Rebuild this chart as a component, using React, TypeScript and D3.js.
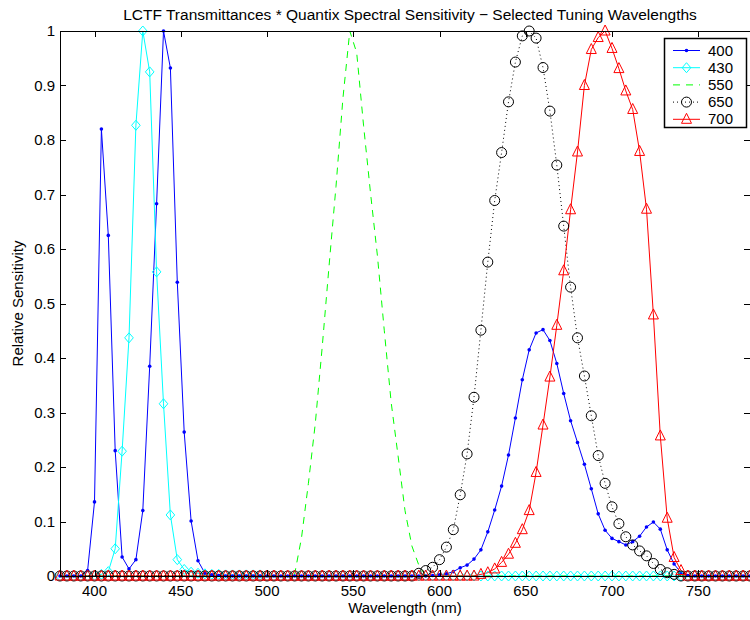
import React from 'react';
import * as d3 from 'd3';

const wavelengths = [
  380, 384, 388, 392, 396, 400, 404, 408, 412, 416,
  420, 424, 428, 432, 436, 440, 444, 448, 452, 456,
  460, 464, 468, 472, 476, 480, 484, 488, 492, 496,
  500, 504, 508, 512, 516, 520, 524, 528, 532, 536,
  540, 544, 548, 552, 556, 560, 564, 568, 572, 576,
  580, 584, 588, 592, 596, 600, 604, 608, 612, 616,
  620, 624, 628, 632, 636, 640, 644, 648, 652, 656,
  660, 664, 668, 672, 676, 680, 684, 688, 692, 696,
  700, 704, 708, 712, 716, 720, 724, 728, 732, 736,
  740, 744, 748, 752, 756, 760, 764, 768, 772, 776,
  780,
];

const s400 = [
  0, 0, 0, 0, 0.01, 0.136, 0.82, 0.625, 0.23, 0.035,
  0.013, 0.03, 0.12, 0.385, 0.683, 1.0, 0.932, 0.539, 0.264, 0.101,
  0.028, 0.005, 0.002, 0.001, 0, 0, 0, 0, 0, 0,
  0, 0, 0, 0, 0, 0, 0, 0, 0, 0,
  0, 0, 0, 0, 0, 0, 0, 0, 0, 0,
  0, 0, 0, 0, 0.001, 0.002, 0.004, 0.008, 0.015, 0.02,
  0.031, 0.048, 0.081, 0.121, 0.165, 0.222, 0.29, 0.36, 0.415, 0.446,
  0.452, 0.432, 0.39, 0.335, 0.285, 0.245, 0.205, 0.16, 0.114, 0.084,
  0.069, 0.063, 0.057, 0.063, 0.073, 0.09, 0.099, 0.086, 0.048, 0.022,
  0.006, 0.001, 0, 0, 0, 0, 0, 0, 0, 0,
  0,
];

const s430 = [
  0, 0, 0, 0, 0, 0.001, 0.003, 0.008, 0.05, 0.229,
  0.437, 0.827, 1.0, 0.925, 0.558, 0.316, 0.112, 0.03, 0.012, 0.007,
  0.005, 0.004, 0.003, 0.003, 0.002, 0.002, 0.002, 0.002, 0.002, 0.002,
  0, 0, 0, 0, 0, 0, 0, 0, 0, 0,
  0, 0, 0, 0, 0, 0, 0, 0, 0, 0,
  0, 0, 0, 0, 0, 0, 0, 0, 0, 0,
  0, 0, 0, 0, 0, 0, 0, 0, 0, 0,
  0, 0, 0, 0, 0, 0, 0, 0, 0, 0,
  0, 0, 0, 0, 0, 0, 0, 0, 0, 0,
  0, 0, 0, 0, 0, 0, 0, 0, 0, 0,
  0,
];

const s550 = [
  0, 0, 0, 0, 0, 0, 0, 0, 0, 0,
  0, 0, 0, 0, 0, 0, 0, 0, 0, 0,
  0, 0, 0, 0, 0, 0, 0, 0, 0, 0,
  0, 0, 0, 0, 0.003, 0.07, 0.17, 0.28, 0.42, 0.57,
  0.715, 0.876, 1.0, 0.96, 0.826, 0.703, 0.588, 0.45, 0.318, 0.22,
  0.12, 0.055, 0.02, 0, 0, 0, 0, 0, 0, 0,
  0, 0, 0, 0, 0, 0, 0, 0, 0, 0,
  0, 0, 0, 0, 0, 0, 0, 0, 0, 0,
  0, 0, 0, 0, 0, 0, 0, 0, 0, 0,
  0, 0, 0, 0, 0, 0, 0, 0, 0, 0,
  0,
];

const s650 = [
  0, 0, 0, 0, 0, 0, 0, 0, 0, 0,
  0, 0, 0, 0, 0, 0, 0, 0, 0, 0,
  0, 0, 0, 0, 0, 0, 0, 0, 0, 0,
  0, 0, 0, 0, 0, 0, 0, 0, 0, 0,
  0, 0, 0, 0, 0, 0, 0, 0, 0, 0,
  0, 0, 0.005, 0.01, 0.016, 0.03, 0.053, 0.085, 0.149, 0.224,
  0.328, 0.451, 0.576, 0.689, 0.777, 0.87, 0.943, 0.991, 1.0, 0.987,
  0.933, 0.853, 0.754, 0.642, 0.53, 0.437, 0.367, 0.294, 0.221, 0.17,
  0.127, 0.096, 0.072, 0.057, 0.046, 0.037, 0.023, 0.012, 0.006, 0.003,
  0, 0, 0, 0, 0, 0, 0, 0, 0, 0,
  0,
];

const s700 = [
  0, 0, 0, 0, 0, 0, 0, 0, 0, 0,
  0, 0, 0, 0, 0, 0, 0, 0, 0, 0,
  0, 0, 0, 0, 0, 0, 0, 0, 0, 0,
  0, 0, 0, 0, 0, 0, 0, 0, 0, 0,
  0, 0, 0, 0, 0, 0, 0, 0, 0, 0,
  0, 0, 0, 0, 0, 0, 0, 0, 0, 0,
  0, 0.003, 0.006, 0.013, 0.025, 0.04, 0.06, 0.085, 0.12, 0.19,
  0.277, 0.365, 0.46, 0.56, 0.672, 0.778, 0.9, 0.966, 0.988, 1.0,
  0.968, 0.931, 0.89, 0.856, 0.779, 0.673, 0.479, 0.257, 0.106, 0.034,
  0.01, 0, 0, 0, 0, 0, 0, 0, 0, 0,
  0,
];

const seriesNames = ['400', '430', '550', '650', '700'];
const xTicks = [400, 450, 500, 550, 600, 650, 700, 750];
const yTicks = [0, 0.1, 0.2, 0.3, 0.4, 0.5, 0.6, 0.7, 0.8, 0.9, 1];
const yTickLabels = ['0', '0.1', '0.2', '0.3', '0.4', '0.5', '0.6', '0.7', '0.8', '0.9', '1'];

const titleText = 'LCTF Transmittances * Quantix Spectral Sensitivity \u2212 Selected Tuning Wavelengths';
const xLabel = 'Wavelength (nm)';
const yLabel = 'Relative Sensitivity';

const FONT = '"Liberation Sans", Arial, Helvetica, sans-serif';
const FS = 15;

type MarkerKind = 'dot' | 'diamond' | 'none' | 'circle' | 'triangle';

function Marker({ kind, cx, cy, color }: { kind: MarkerKind; cx: number; cy: number; color: string }) {
  if (kind === 'dot') return <circle cx={cx} cy={cy} r={1.8} fill={color} stroke="none" />;
  if (kind === 'diamond')
    return (
      <path
        d={`M${cx},${cy - 5}L${cx + 4.3},${cy}L${cx},${cy + 5}L${cx - 4.3},${cy}Z`}
        fill="none"
        stroke={color}
        strokeWidth={1}
      />
    );
  if (kind === 'circle') return <circle cx={cx} cy={cy} r={5} fill="none" stroke={color} strokeWidth={1} />;
  if (kind === 'triangle')
    return (
      <path
        d={`M${cx},${cy - 6}L${cx + 5},${cy + 4}L${cx - 5},${cy + 4}Z`}
        fill="none"
        stroke={color}
        strokeWidth={1}
      />
    );
  return null;
}

export default function App() {
  const L = 60, R = 750, T = 31, B = 576;
  const x = d3.scaleLinear().domain([380, 780]).range([L, R]);
  const y = d3.scaleLinear().domain([0, 1]).range([B, T]);

  const series = [
    { name: seriesNames[0], values: s400, color: '#0000ff', dash: undefined as string | undefined, marker: 'dot' as MarkerKind },
    { name: seriesNames[1], values: s430, color: '#00ffff', dash: undefined, marker: 'diamond' as MarkerKind },
    { name: seriesNames[2], values: s550, color: '#00ff00', dash: '7,6', marker: 'none' as MarkerKind },
    { name: seriesNames[3], values: s650, color: '#000000', dash: '1,3', marker: 'circle' as MarkerKind },
    { name: seriesNames[4], values: s700, color: '#ff0000', dash: undefined, marker: 'triangle' as MarkerKind },
  ];

  const lineGen = d3
    .line<number>()
    .x((_, i) => x(wavelengths[i]))
    .y((d) => y(d));

  const tickLen = 6;
  const legX = 664.5, legY = 38.5, legW = 82, legH = 89;
  const legRowH = 17.2;

  return (
    <svg
      width={750}
      height={620}
      style={{ position: 'absolute', left: 0, top: 0, background: '#fff' }}
      fontFamily={FONT}
    >
      <rect x={0} y={0} width={750} height={620} fill="#fff" />
      {/* title */}
      <text x={410} y={20} textAnchor="middle" fontSize={15.5} fill="#000">
        {titleText}
      </text>

      {/* series lines */}
      {series.map((s) => (
        <path
          key={'l' + s.name}
          d={lineGen(s.values) || ''}
          fill="none"
          stroke={s.color}
          strokeWidth={1}
          strokeDasharray={s.dash}
        />
      ))}
      {/* markers */}
      {series.map((s) =>
        s.marker === 'none' ? null : (
          <g key={'m' + s.name}>
            {s.values.map((v, i) => (
              <Marker key={i} kind={s.marker} cx={x(wavelengths[i])} cy={y(v)} color={s.color} />
            ))}
          </g>
        )
      )}

      {/* axes box */}
      <line x1={L} x2={R} y1={T + 0.5} y2={T + 0.5} stroke="#000" strokeWidth={1} />
      <line x1={L} x2={R} y1={B + 0.5} y2={B + 0.5} stroke="#000" strokeWidth={1} />
      <line x1={L + 0.5} x2={L + 0.5} y1={T} y2={B + 1} stroke="#000" strokeWidth={1} />
      <line x1={R + 0.5} x2={R + 0.5} y1={T} y2={B + 1} stroke="#000" strokeWidth={1} />

      {/* x ticks */}
      {xTicks.map((t) => {
        const px = Math.round(x(t)) + 0.5;
        return (
          <g key={'xt' + t}>
            <line x1={px} x2={px} y1={B} y2={B - tickLen} stroke="#000" strokeWidth={1} />
            <line x1={px} x2={px} y1={T} y2={T + tickLen} stroke="#000" strokeWidth={1} />
            <text x={x(t)} y={596} textAnchor="middle" fontSize={FS} fill="#000">
              {String(t)}
            </text>
          </g>
        );
      })}

      {/* y ticks */}
      {yTicks.map((t, i) => {
        const py = Math.round(y(t)) + 0.5;
        return (
          <g key={'yt' + t}>
            <line x1={L} x2={L + tickLen} y1={py} y2={py} stroke="#000" strokeWidth={1} />
            <line x1={R} x2={R - tickLen} y1={py} y2={py} stroke="#000" strokeWidth={1} />
            <text x={55} y={y(t) + 5} textAnchor="end" fontSize={FS} fill="#000">
              {yTickLabels[i]}
            </text>
          </g>
        );
      })}

      {/* axis labels */}
      <text x={405} y={613} textAnchor="middle" fontSize={FS} fill="#000">
        {xLabel}
      </text>
      <text
        x={0}
        y={0}
        transform={`translate(23,${(T + B) / 2}) rotate(-90)`}
        textAnchor="middle"
        fontSize={FS}
        fill="#000"
      >
        {yLabel}
      </text>

      {/* legend */}
      <rect x={legX} y={legY} width={legW} height={legH} fill="#fff" stroke="#000" strokeWidth={1.5} />
      {series.map((s, i) => {
        const cy = legY + 12 + i * legRowH;
        const x1 = 673, x2 = 700, cx = (x1 + x2) / 2;
        return (
          <g key={'lg' + s.name}>
            <line x1={x1} x2={x2} y1={cy} y2={cy} stroke={s.color} strokeWidth={1} strokeDasharray={s.dash} />
            <Marker kind={s.marker} cx={cx} cy={cy} color={s.color} />
            <text x={708} y={cy + 5} fontSize={FS} fill="#000">
              {s.name}
            </text>
          </g>
        );
      })}
    </svg>
  );
}
